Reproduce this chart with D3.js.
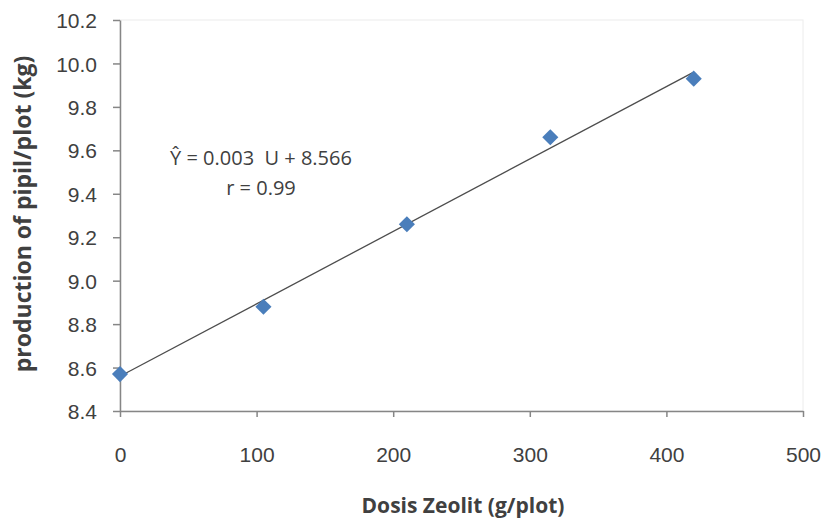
<!DOCTYPE html>
<html>
<head>
<meta charset="utf-8">
<script src="https://cdn.jsdelivr.net/npm/d3@7"></script>
<style>
  html, body { margin: 0; padding: 0; background: #fff; }
  svg { display: block; font-family: "Open Sans", "Liberation Sans", sans-serif; }
</style>
</head>
<body>
<svg id="chart" width="825" height="519"></svg>
<script>
// ---- data ----
const doses = [0, 105, 210, 315, 420];            // Dosis Zeolit (g/plot)
const production = [8.57, 8.88, 9.26, 9.66, 9.93]; // production of pipil/plot (kg)
const xTicks = [0, 100, 200, 300, 400, 500];
const yTicks = [8.4, 8.6, 8.8, 9.0, 9.2, 9.4, 9.6, 9.8, 10.0, 10.2];
const equationLines = ["Ŷ = 0.003  U + 8.566", "r = 0.99"];
const xTitle = "Dosis Zeolit (g/plot)";
const yTitle = "production of pipil/plot (kg)";

// ---- layout ----
const svg = d3.select("#chart");
const plotL = 120, plotR = 803, plotT = 20, plotB = 411;

const x = d3.scaleLinear().domain([0, 500]).range([plotL, plotR]);
const y = d3.scaleLinear().domain([8.4, 10.2]).range([plotB, plotT]);

const axisColor = "#868686";
const textColor = "#404040";

// faint plot-area border
svg.append("rect")
  .attr("x", plotL).attr("y", plotT)
  .attr("width", plotR - plotL).attr("height", plotB - plotT)
  .attr("fill", "none").attr("stroke", "#ececec").attr("stroke-width", 1);

// axes
const xAxis = svg.append("g")
  .attr("transform", `translate(0,${plotB})`)
  .call(d3.axisBottom(x).tickValues(xTicks).tickFormat(d3.format("d")).tickSize(6).tickSizeOuter(0));
const yAxis = svg.append("g")
  .attr("transform", `translate(${plotL},0)`)
  .call(d3.axisLeft(y).tickValues(yTicks).tickFormat(d3.format(".1f")).tickSize(7).tickSizeOuter(0));

[xAxis, yAxis].forEach(g => {
  g.select(".domain").attr("stroke", axisColor).attr("stroke-width", 1.5);
  g.selectAll(".tick line").attr("stroke", axisColor).attr("stroke-width", 1.5);
  g.selectAll(".tick text").attr("fill", textColor).style("font-size", "21px");
});
xAxis.selectAll(".tick text").attr("dy", "0").attr("y", 51);
yAxis.selectAll(".tick text").attr("x", -23).attr("dy", "0.36em");

// regression line (least squares from the data)
const mx = d3.mean(doses), my = d3.mean(production);
const slope = d3.sum(doses, (d, i) => (d - mx) * (production[i] - my)) /
              d3.sum(doses, d => (d - mx) * (d - mx));
const intercept = my - slope * mx;
const xExt = d3.extent(doses);
svg.append("line")
  .attr("x1", x(xExt[0])).attr("y1", y(intercept + slope * xExt[0]))
  .attr("x2", x(xExt[1])).attr("y2", y(intercept + slope * xExt[1]))
  .attr("stroke", "#4d4d4d").attr("stroke-width", 1.3);

// markers (diamonds)
svg.append("g").selectAll("path")
  .data(doses.map((d, i) => [d, production[i]]))
  .join("path")
  .attr("d", d3.symbol(d3.symbolSquare, 130)())
  .attr("transform", d => `translate(${x(d[0])},${y(d[1])}) rotate(45)`)
  .attr("fill", "#4a7ebb");

// equation text
equationLines.forEach((t, i) => {
  svg.append("text")
    .attr("x", 261).attr("y", 165 + i * 30)
    .attr("text-anchor", "middle")
    .attr("fill", textColor)
    .attr("xml:space", "preserve")
    .style("white-space", "pre")
    .style("font-size", "20px")
    .text(t);
});

// axis titles
svg.append("text")
  .attr("x", 463).attr("y", 513)
  .attr("text-anchor", "middle")
  .attr("fill", textColor)
  .style("font-size", "21px").style("font-weight", "bold")
  .text(xTitle);
svg.append("text")
  .attr("transform", `translate(31,214) rotate(-90)`)
  .attr("text-anchor", "middle")
  .attr("fill", textColor)
  .style("font-size", "23px").style("font-weight", "bold")
  .text(yTitle);
</script>
</body>
</html>
